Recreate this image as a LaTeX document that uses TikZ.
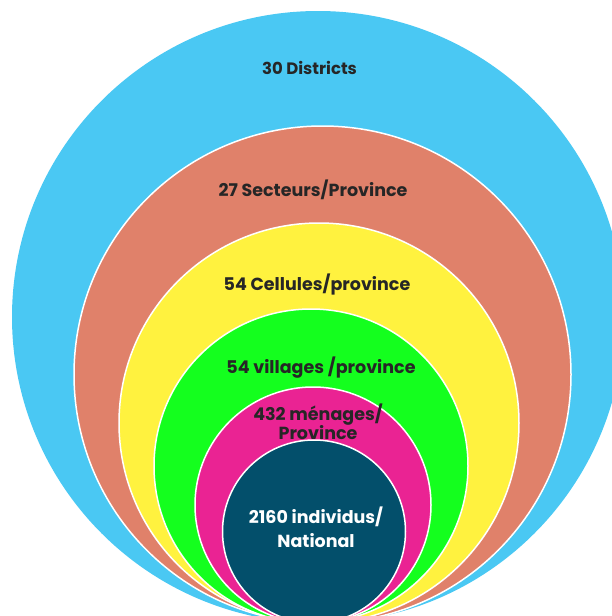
\documentclass[tikz,border=0pt]{standalone}
\usepackage{fontspec}
\setmainfont{Poppins}
\definecolor{cblue}{HTML}{4AC8F3}
\definecolor{csalmon}{HTML}{E0816A}
\definecolor{cyellow}{HTML}{FFF23F}
\definecolor{cgreen}{HTML}{14FF1E}
\definecolor{cpink}{HTML}{EA2393}
\definecolor{cdark}{HTML}{034F6B}
\definecolor{ctext}{HTML}{262626}
\tikzset{
  ring/.style={draw=white, line width=1.5pt},
  lbl/.style={font=\bfseries\fontsize{17.5pt}{19pt}\selectfont, text=ctext, inner sep=0pt, align=center},
  wlbl/.style={lbl, text=white, font=\bfseries\fontsize{17.5pt}{24pt}\selectfont}
}
\begin{document}
\begin{tikzpicture}[x=1pt,y=-1pt]
\useasboundingbox (0,0) rectangle (612,616);
\clip (0,0) rectangle (612,616);
\fill[cblue] (318,317) circle[radius=306pt];
\filldraw[ring, fill=csalmon] (322.5,374.5) circle[radius=248.5pt];
\filldraw[ring, fill=cyellow] (319,423) circle[radius=200pt];
\filldraw[ring, fill=cgreen] (311,466) circle[radius=157pt];
\filldraw[ring, fill=cpink] (313,505) circle[radius=118pt];
\filldraw[ring, fill=cdark] (314,531.5) circle[radius=91.5pt];
\node[lbl, font=\bfseries\fontsize{16.5pt}{19pt}\selectfont] (t1) at (309.5,68) {30 Districts};
\node[lbl] (t2) at (313,190) {27 Secteurs/Province};
\node[lbl] (t3) at (317,285) {54 Cellules/province};
\node[lbl] (t4) at (321,368) {54 villages /province};
\node[lbl] (t5) at (318,422) {432 ménages/\\Province};
\node[wlbl] (t6) at (316,527) {2160 individus/\\National};
\end{tikzpicture}
\end{document}
